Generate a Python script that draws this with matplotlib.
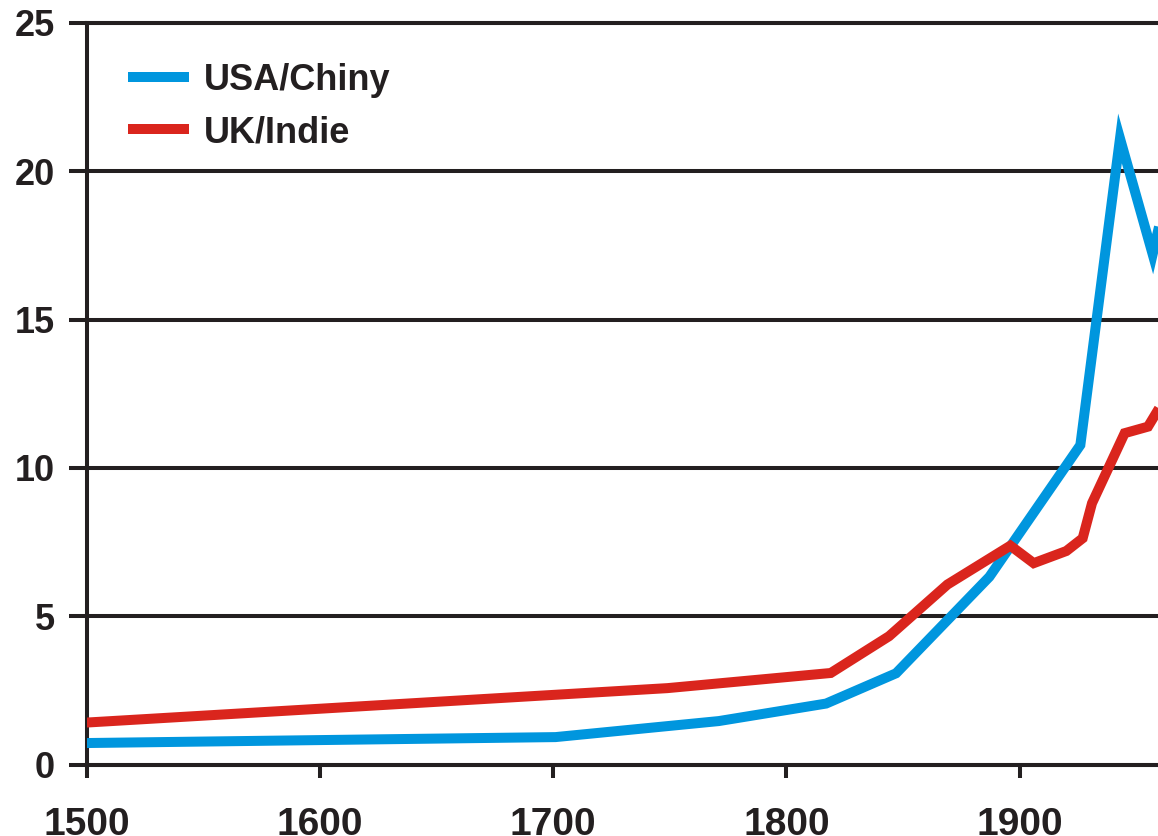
import numpy as np
import matplotlib
matplotlib.use('Agg')
import matplotlib.pyplot as plt

# values
usa_years = [1500, 1701, 1771, 1817, 1847, 1887, 1926, 1943, 1957, 1962]
usa_china = [0.73, 0.93, 1.47, 2.06, 3.08, 6.33, 10.77, 21.1, 17.2, 18.9]

uk_years = [1500, 1749, 1819, 1844, 1869, 1896, 1906, 1920, 1927, 1931, 1945, 1955, 1962]
uk_india = [1.42, 2.58, 3.09, 4.33, 6.07, 7.38, 6.79, 7.2, 7.63, 8.81, 11.17, 11.39, 12.3]

x_ticks = [1500, 1600, 1700, 1800, 1900]
y_ticks = [0, 5, 10, 15, 20, 25]

blue = '#0096de'
red = '#da251d'
ink = '#231f20'

plt.rcParams['font.family'] = ['Liberation Sans', 'DejaVu Sans']
plt.rcParams['font.weight'] = 'bold'

fig = plt.figure(figsize=(11.58, 8.36), dpi=100)
ax = fig.add_axes([86.7 / 1158, (836 - 764.7) / 836, 1 - 86.7 / 1158, (764.7 - 22.7) / 836])

lw = 7.2
ax.plot(usa_years, usa_china, color=blue, lw=lw, solid_joinstyle='miter',
        solid_capstyle='butt', label='USA/Chiny', zorder=3)
ax.plot(uk_years, uk_india, color=red, lw=lw, solid_joinstyle='miter',
        solid_capstyle='butt', label='UK/Indie', zorder=3)

ax.set_xlim(1500, 1500 + (1158 - 86.7) / 2.3325)
ax.set_ylim(0, 25)
ax.set_xticks(x_ticks)
ax.set_yticks(y_ticks)

gw = 2.9
ax.yaxis.grid(True, color=ink, lw=gw)
for gl in ax.get_ygridlines():
    gl.set_clip_on(False)
ax.set_axisbelow(True)

for s in ['left', 'bottom', 'top']:
    ax.spines[s].set_color(ink)
    ax.spines[s].set_linewidth(gw)
ax.spines['right'].set_visible(False)

ax.tick_params(axis='y', direction='out', length=13, width=gw, color=ink,
               labelsize=26, labelcolor=ink, pad=10)
ax.tick_params(axis='x', direction='out', length=9.5, width=gw, color=ink,
               labelsize=28, labelcolor=ink, pad=21)

ax.legend(loc='upper left', bbox_to_anchor=(0.0386, 0.946), frameon=False,
          fontsize=26, handlelength=1.69, handletextpad=0.4, labelspacing=0.48,
          borderaxespad=0, borderpad=0, labelcolor=ink)

fig.savefig('out.png', dpi=100)
